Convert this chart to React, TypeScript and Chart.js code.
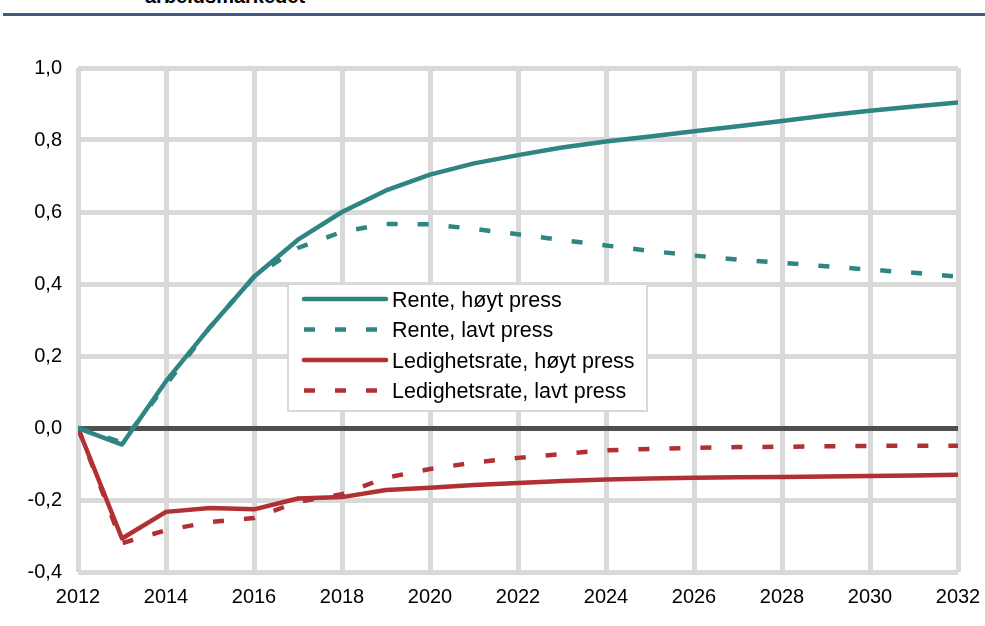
import React, { useEffect, useRef } from "react";
import { Chart, registerables } from "chart.js";

Chart.register(...registerables);

const years = [2012, 2013, 2014, 2015, 2016, 2017, 2018, 2019, 2020, 2021, 2022, 2023, 2024, 2025, 2026, 2027, 2028, 2029, 2030, 2031, 2032];

const renteHoyt = [0, -0.046, 0.13, 0.28, 0.42, 0.523, 0.60, 0.66, 0.704, 0.735, 0.758, 0.779, 0.796, 0.81, 0.824, 0.838, 0.853, 0.868, 0.881, 0.893, 0.904];
const renteLavt = [0, -0.04, 0.12, 0.28, 0.42, 0.50, 0.545, 0.567, 0.566, 0.553, 0.538, 0.522, 0.507, 0.492, 0.479, 0.468, 0.459, 0.449, 0.44, 0.431, 0.42];
const ledigHoyt = [0, -0.307, -0.233, -0.222, -0.226, -0.196, -0.192, -0.172, -0.166, -0.158, -0.153, -0.147, -0.143, -0.14, -0.138, -0.137, -0.136, -0.135, -0.133, -0.132, -0.13];
const ledigLavt = [0, -0.32, -0.284, -0.261, -0.25, -0.205, -0.184, -0.138, -0.114, -0.096, -0.083, -0.072, -0.062, -0.058, -0.055, -0.053, -0.052, -0.051, -0.05, -0.049, -0.049];

const seriesNames = ["Rente, høyt press", "Rente, lavt press", "Ledighetsrate, høyt press", "Ledighetsrate, lavt press"];
const titleText = "arbeidsmarkedet";

const TEAL = "#2e8582";
const RED = "#b03033";
const GRID = "#d9d9d9";
const ZERO = "#505050";
const FONT = "'Liberation Sans', Arial, sans-serif";

const legendPlugin = {
  id: "boxLegend",
  afterDraw(chart: any) {
    const ctx = chart.ctx;
    const a = chart.chartArea;
    const x0 = a.left + 210;
    const y0 = a.top + 216;
    const w = 359;
    const h = 127;
    ctx.save();
    ctx.fillStyle = "#ffffff";
    ctx.fillRect(x0, y0, w, h);
    ctx.strokeStyle = GRID;
    ctx.lineWidth = 2;
    ctx.strokeRect(x0, y0, w, h);
    chart.data.datasets.forEach((ds: any, i: number) => {
      const ly = y0 + 15 + i * 30.5;
      ctx.beginPath();
      ctx.strokeStyle = ds.borderColor;
      ctx.lineWidth = ds.borderWidth;
      ctx.setLineDash(ds.borderDash || []);
      ctx.lineCap = ds.borderDash && ds.borderDash.length ? "butt" : "round";
      ctx.moveTo(x0 + 16, ly);
      ctx.lineTo(x0 + 98, ly);
      ctx.stroke();
      ctx.setLineDash([]);
      ctx.fillStyle = "#000000";
      ctx.font = `21.5px ${FONT}`;
      ctx.textBaseline = "middle";
      ctx.textAlign = "left";
      ctx.fillText(ds.label, x0 + 104, ly + 2);
    });
    ctx.restore();
  },
};

export default function App() {
  const ref = useRef<HTMLCanvasElement | null>(null);

  useEffect(() => {
    document.body.style.margin = "0";
    const toPts = (arr: number[]) => years.map((x, i) => ({ x, y: arr[i] }));
    const mk = (label: string, arr: number[], color: string, dashed: boolean) => ({
      label,
      data: toPts(arr),
      borderColor: color,
      backgroundColor: color,
      borderWidth: 4.5,
      borderDash: dashed ? [11, 20] : [],
      borderCapStyle: dashed ? "butt" : "round",
      borderJoinStyle: "round",
      pointRadius: 0,
      tension: 0,
      fill: false,
    });
    const chart = new Chart(ref.current as HTMLCanvasElement, {
      type: "line",
      data: {
        datasets: [
          mk(seriesNames[0], renteHoyt, TEAL, false),
          mk(seriesNames[1], renteLavt, TEAL, true),
          mk(seriesNames[2], ledigHoyt, RED, false),
          mk(seriesNames[3], ledigLavt, RED, true),
        ] as any,
      },
      options: {
        animation: false,
        responsive: false,
        devicePixelRatio: 1,
        layout: { padding: { left: 0, right: 27, top: 68, bottom: 0 } },
        plugins: {
          legend: { display: false },
          tooltip: { enabled: false },
        },
        scales: {
          x: {
            type: "linear",
            min: 2012,
            max: 2032,
            afterFit: (s: any) => {
              s.height = 54;
              s.paddingLeft = 0;
              s.paddingRight = 0;
            },
            ticks: {
              stepSize: 2,
              padding: 13,
              color: "#000000",
              font: { family: FONT, size: 20 },
              maxRotation: 0,
              callback: (v: any) => String(v),
            },
            grid: { color: GRID, lineWidth: 5, drawTicks: false },
            border: { display: false },
          },
          y: {
            min: -0.4,
            max: 1.0,
            afterFit: (s: any) => {
              s.width = 78;
              s.paddingTop = 0;
              s.paddingBottom = 0;
            },
            ticks: {
              stepSize: 0.2,
              padding: 16,
              color: "#000000",
              font: { family: FONT, size: 20 },
              callback: (v: any) => {
                const n = Number(v);
                if (Math.abs(n) < 1e-9) return "0,0";
                return n.toFixed(1).replace(".", ",");
              },
            },
            grid: {
              color: (c: any) => (Math.abs(c.tick.value) < 1e-9 ? ZERO : GRID),
              lineWidth: 5,
              drawTicks: false,
            },
            border: { display: false },
          },
        },
      } as any,
      plugins: [legendPlugin],
    });
    return () => chart.destroy();
  }, []);

  return (
    <div style={{ position: "relative", width: 985, height: 626, overflow: "hidden", background: "#ffffff" }}>
      <div
        style={{
          position: "absolute",
          left: 145,
          top: -14,
          fontFamily: FONT,
          fontWeight: "bold",
          fontSize: 20,
          lineHeight: "20px",
          color: "#000000",
          whiteSpace: "nowrap",
        }}
      >
        {titleText}
      </div>
      <div style={{ position: "absolute", left: 3, top: 13, width: 982, height: 3, background: "#435a85" }} />
      <canvas ref={ref} width={985} height={626} style={{ position: "absolute", left: 0, top: 0 }} />
    </div>
  );
}
